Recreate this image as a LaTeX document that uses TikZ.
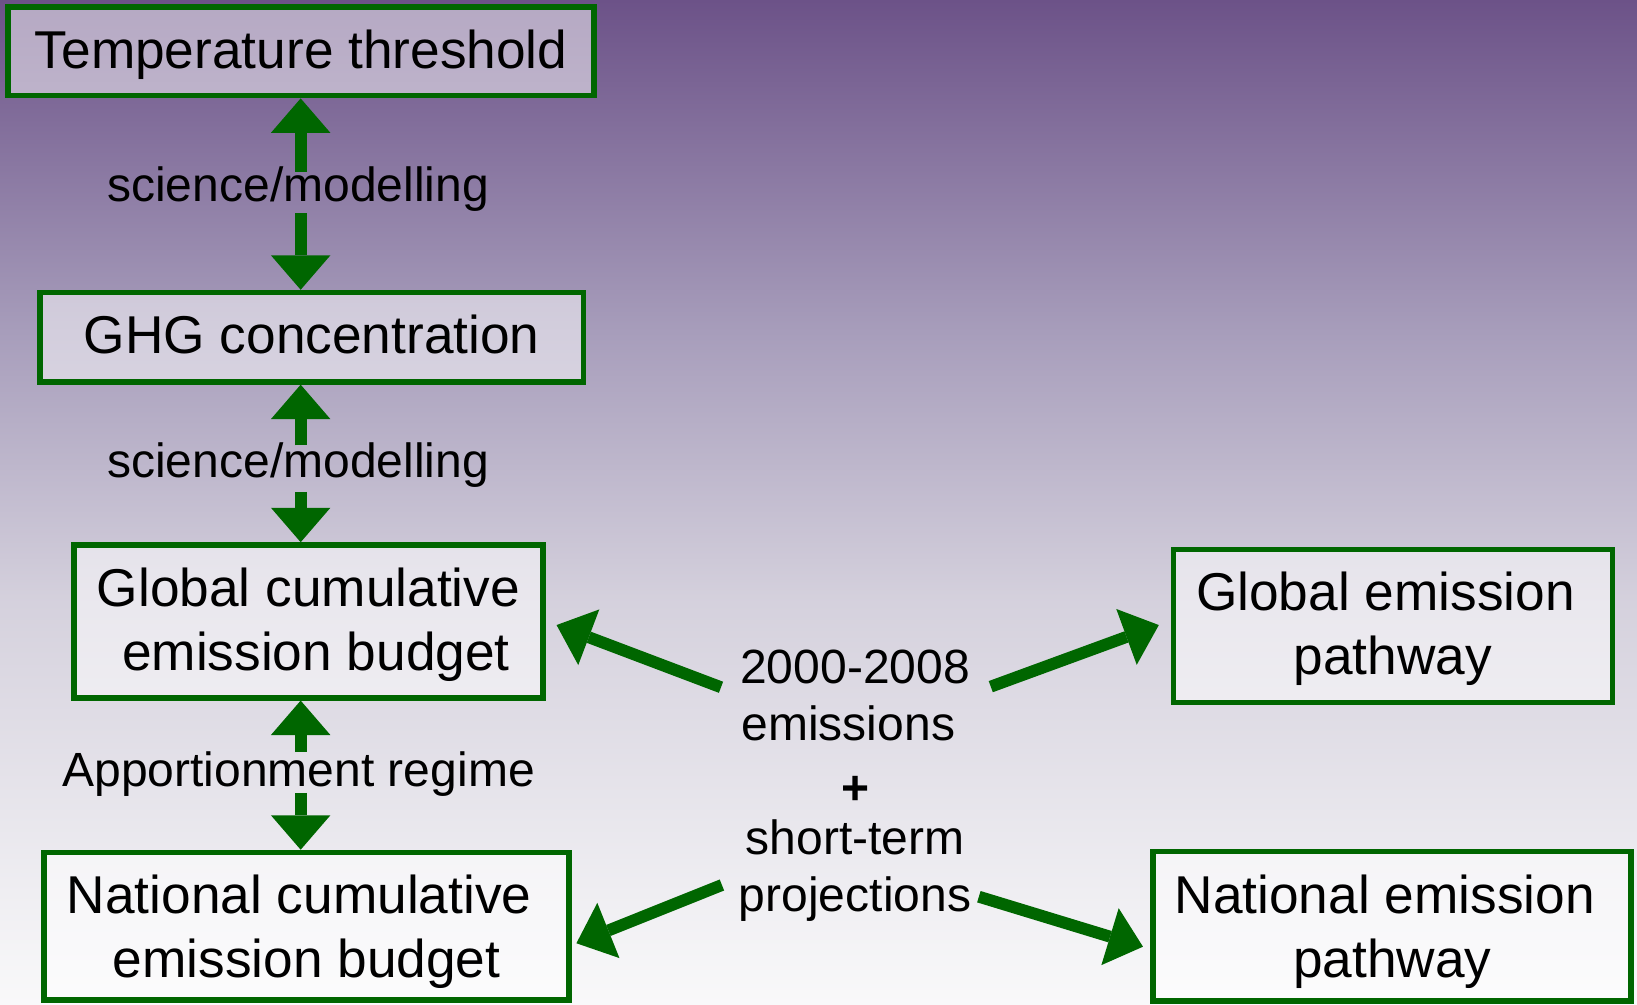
\documentclass[tikz,border=0pt]{standalone}
\usepackage{fontspec}
\setmainfont{Liberation Sans}
\usetikzlibrary{arrows.meta,calc}

\definecolor{bgtop}{RGB}{108,82,136}
\definecolor{bgupper}{RGB}{167,157,187}
\definecolor{bglower}{RGB}{213,209,221}
\definecolor{bgbottom}{RGB}{249,249,250}
\definecolor{leaf}{RGB}{0,102,0}

% purple-to-white backdrop (the filled path spans 25bp..75bp of the shading)
\pgfdeclareverticalshading{skyfade}{100bp}{color(0bp)=(bgbottom); color(25bp)=(bgbottom); color(45bp)=(bglower); color(58.5bp)=(bgupper); color(75bp)=(bgtop); color(100bp)=(bgtop)}

% invisible struts fixing a line's height or depth
\newcommand\riseto[1]{\rule{0pt}{#1}}
\newcommand\sinkto[1]{\rule[-#1]{0pt}{0pt}}

\begin{document}
\begin{tikzpicture}[x=0.5pt,y=-0.5pt,
  panel/.style={draw=leaf, line width=2.7pt, fill=white, fill opacity=0.5, text opacity=1,
    inner sep=0pt, align=center, font=\fontsize{25.5pt}{30.65pt}\selectfont},
  caption/.style={inner xsep=0pt, inner ysep=0pt, anchor=base,
    font=\fontsize{23pt}{27.3pt}\selectfont},
  flow/.style={draw=leaf, line width=5.7pt,
    -{Triangle[width=28.5pt,length=16.5pt,line width=0pt]}}
]
\useasboundingbox (0,0) rectangle (1568,962);
\shade[shading=skyfade] (0,0) rectangle (1568,962);

% boxes
\node[panel, minimum width=280.6pt, minimum height=42.45pt] (temp) at (288.4,49.1)
  {\riseto{22.4pt}Temperature threshold\sinkto{6pt}};
\node[panel, minimum width=260.15pt, minimum height=42.75pt] (ghg) at (298.6,323)
  {\riseto{22pt}GHG concentration\sinkto{6pt}};
\node[panel, minimum width=224.45pt, minimum height=73.15pt] (gcb) at (295.5,595.2)
  {\riseto{22.65pt}Global cumulative\\\hspace*{0.28em}emission budget\sinkto{6pt}};
\node[panel, minimum width=251.5pt, minimum height=70.7pt] (ncb) at (293.7,887.3)
  {\riseto{24.05pt}National cumulative\kern0.28em\\emission budget\sinkto{6pt}};
\node[panel, minimum width=210.25pt, minimum height=73.25pt] (gep) at (1334.2,599.7)
  {\riseto{21.95pt}Global emission\kern0.28em\\pathway\sinkto{6pt}};
\node[panel, minimum width=229pt, minimum height=71.5pt] (nep) at (1333.5,887)
  {\riseto{24.45pt}National emission\kern0.28em\\pathway\sinkto{6pt}};

% labels on the vertical links
\node[caption, text height=14.1pt, text depth=5.4pt] (sm1) at (285.5,193.2) {science/modelling};
\node[caption, text height=15.2pt, text depth=6.7pt] (sm2) at (285.5,457.4) {science/modelling};
\node[caption, text height=16.4pt, text depth=2.8pt] (appo) at (286,753.5) {Apportionment regime};

% central text
\node[align=center, inner sep=0pt, font=\fontsize{23pt}{27.3pt}\selectfont] (mid) at (819,753)
  {2000-2008\\emissions\kern0.28em\\[3pt]\textbf{+}\\[-3pt]short-term\\projections};

% vertical links
\coordinate (spine) at (288,0);
\draw[flow] (sm1.north -| spine) -- (temp.south -| spine);
\draw[flow] (sm1.south -| spine) -- (ghg.north -| spine);
\draw[flow] (sm2.north -| spine) -- (ghg.south -| spine);
\draw[flow] (sm2.south -| spine) -- (gcb.north -| spine);
\draw[flow] (appo.north -| spine) -- (gcb.south -| spine);
\draw[flow] (appo.south -| spine) -- (ncb.north -| spine);

% diagonal links from the central text
\coordinate (s1) at ($(mid)+(-128.4,-94.7)$);
\coordinate (s2) at ($(mid)+(130,-95.3)$);
\coordinate (s3) at ($(mid)+(-127.5,94.7)$);
\coordinate (s4) at ($(mid)+(118.6,105.9)$);
\draw[flow] (s1) -- ($(gcb.east)+(10.45,3.5)$);
\draw[flow] (s2) -- ($(gep.west)+(-11.25,-1)$);
\draw[flow] (s3) -- ($(ncb.east)+(4.2,16.2)$);
\draw[flow] (s4) -- ($(nep.west)+(-7,19.8)$);
\end{tikzpicture}
\end{document}
